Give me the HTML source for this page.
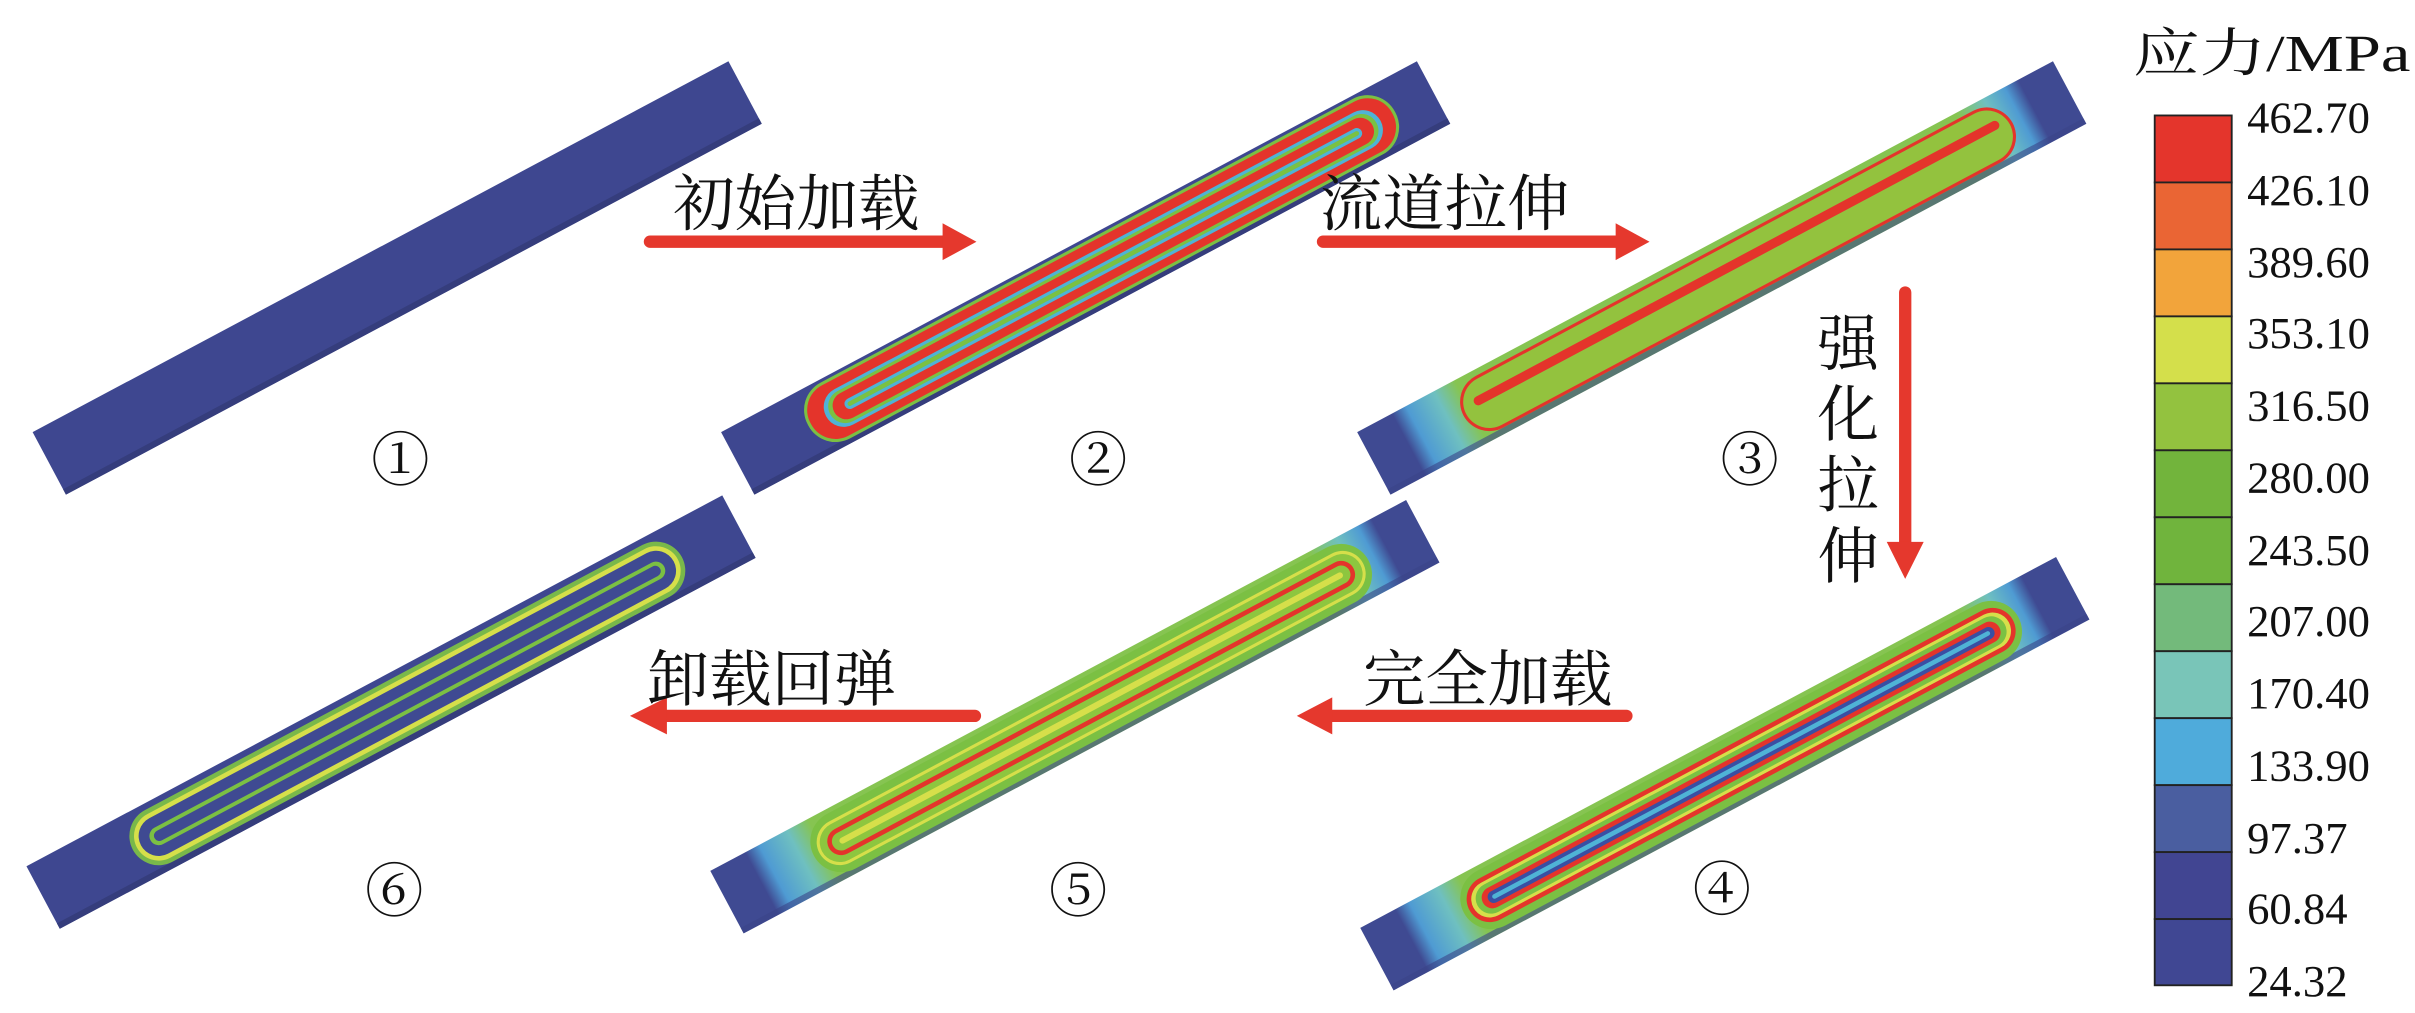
<!DOCTYPE html>
<html><head><meta charset="utf-8"><style>
html,body{margin:0;padding:0;background:#fff;}
svg{display:block;}
text{font-family:"Liberation Serif","Noto Serif CJK SC",serif;fill:#111;}
.cn{font-family:"Liberation Serif","Noto Serif CJK SC","Noto Sans CJK SC",serif;}
</style></head><body>
<svg width="2415" height="1013" viewBox="0 0 1568 658" preserveAspectRatio="none" xmlns="http://www.w3.org/2000/svg">
<defs>
<linearGradient id="ends" x1="0" y1="0" x2="512" y2="0" gradientUnits="userSpaceOnUse">
<stop offset="0" stop-color="#3f4a92"/><stop offset="0.05" stop-color="#3f4a92"/>
<stop offset="0.07" stop-color="#4f9bd3"/><stop offset="0.11" stop-color="#6fc0c0"/>
<stop offset="0.14" stop-color="#86c451"/><stop offset="0.86" stop-color="#86c451"/>
<stop offset="0.9" stop-color="#6fc0c0"/><stop offset="0.93" stop-color="#4f9bd3"/>
<stop offset="0.95" stop-color="#3f4a92"/><stop offset="1" stop-color="#3f4a92"/>
</linearGradient>
</defs>

<!-- Plate 1 -->
<g transform="translate(32,301) rotate(-28.07)">
<rect x="0" y="-23" width="512" height="46" fill="#3e4790"/>
<rect x="0" y="19" width="512" height="4" fill="#353d7c"/>
</g>

<!-- Plate 2 -->
<g transform="translate(479,301) rotate(-28.07)">
<rect x="0" y="-23" width="512" height="46" fill="#3e4790"/>
<rect x="0" y="19" width="512" height="4" fill="#353d7c"/>
<rect x="52" y="-21" width="432" height="41" rx="20" fill="#7bc043"/>
<rect x="54" y="-19" width="428" height="37" rx="18" fill="#e4342b"/>
<rect x="65" y="-13" width="408" height="26" rx="13" fill="#4fb3d6"/>
<rect x="68" y="-11" width="402" height="22" rx="11" fill="#7ac143"/>
<rect x="71" y="-9" width="396" height="18" rx="9" fill="#e4342b"/>
<rect x="79" y="-3.5" width="380" height="7" rx="3.5" fill="#4fb3d6"/>
<rect x="81" y="-1.5" width="376" height="3" rx="1.5" fill="#7ac143"/>
</g>

<!-- Plate 3 -->
<g transform="translate(892,301) rotate(-28.07)">
<rect x="0" y="-23" width="512" height="46" fill="url(#ends)"/>
<rect x="0" y="19" width="512" height="4" fill="#3a4488" opacity="0.6"/>
<rect x="66" y="-19" width="404" height="38" rx="19" fill="#e4342b"/>
<rect x="68" y="-17" width="400" height="34" rx="17" fill="#93c23e"/>
<rect x="76" y="-7" width="386" height="6" rx="3" fill="#e4342b"/>
</g>

<!-- Plate 6 -->
<g transform="translate(28,583) rotate(-28.07)">
<rect x="0" y="-23" width="512" height="46" fill="#3e4790"/>
<rect x="0" y="19" width="512" height="4" fill="#353d7c"/>
<rect x="66" y="-19" width="404" height="38" rx="19" fill="#79b84a"/>
<rect x="69" y="-16" width="398" height="32" rx="16" fill="#d6df4a"/>
<rect x="72" y="-13" width="392" height="26" rx="13" fill="#3f4a92"/>
<rect x="79" y="-6" width="378" height="12" rx="6" fill="#7bc043"/>
<rect x="82" y="-3.5" width="372" height="7" rx="3.5" fill="#3f4a92"/>
</g>

<!-- Plate 5 -->
<g transform="translate(472,586) rotate(-28.07)">
<rect x="0" y="-23" width="512" height="46" fill="url(#ends)"/>
<rect x="0" y="19" width="512" height="4" fill="#3a4488" opacity="0.6"/>
<rect x="64" y="-20" width="408" height="40" rx="20" fill="#7bc043"/>
<rect x="68" y="-15" width="400" height="30" rx="15" fill="#d6df4a"/>
<rect x="70" y="-13" width="396" height="26" rx="13" fill="#8dc63f"/>
<rect x="75" y="-9" width="386" height="18" rx="9" fill="#e4342b"/>
<rect x="78" y="-6" width="380" height="12" rx="6" fill="#8dc63f"/>
<rect x="83" y="-2" width="370" height="4" rx="2" fill="#d6df4a"/>
</g>

<!-- Plate 4 -->
<g transform="translate(894,623) rotate(-28.07)">
<rect x="0" y="-23" width="512" height="46" fill="url(#ends)"/>
<rect x="0" y="19" width="512" height="4" fill="#3a4488" opacity="0.6"/>
<rect x="64" y="-20" width="408" height="40" rx="20" fill="#7bc043"/>
<rect x="68" y="-15" width="400" height="30" rx="15" fill="#e4342b"/>
<rect x="71" y="-12" width="394" height="24" rx="12" fill="#d6df4a"/>
<rect x="74" y="-10" width="388" height="20" rx="10" fill="#7ac143"/>
<rect x="78" y="-7" width="380" height="14" rx="7" fill="#e4342b"/>
<rect x="82" y="-4" width="372" height="8" rx="4" fill="#3a4fa3"/>
<rect x="85" y="-1.5" width="366" height="3" rx="1.5" fill="#4fb3d6"/>
</g>

<!-- Arrows -->
<g fill="#e5382d" stroke="#e5382d">
<line x1="422" y1="157" x2="615" y2="157" stroke-width="8" stroke-linecap="round"/>
<polygon points="612,145 634,157 612,169" stroke="none"/>
<line x1="859" y1="157" x2="1052" y2="157" stroke-width="8" stroke-linecap="round"/>
<polygon points="1049,145 1071,157 1049,169" stroke="none"/>
<line x1="1237" y1="190" x2="1237" y2="355" stroke-width="8" stroke-linecap="round"/>
<polygon points="1225,352 1237,376 1249,352" stroke="none"/>
<line x1="1056" y1="465" x2="862" y2="465" stroke-width="8" stroke-linecap="round"/>
<polygon points="865,453 842,465 865,477" stroke="none"/>
<line x1="633" y1="465" x2="430" y2="465" stroke-width="8" stroke-linecap="round"/>
<polygon points="433,453 409,465 433,477" stroke="none"/>
</g>

<!-- Arrow labels -->
<g class="cn" font-size="40">
<text x="437" y="146" class="cn" textLength="160" lengthAdjust="spacingAndGlyphs">初始加载</text>
<text x="857" y="146" class="cn" textLength="162" lengthAdjust="spacingAndGlyphs">流道拉伸</text>
<text x="885" y="455" class="cn" textLength="162" lengthAdjust="spacingAndGlyphs">完全加载</text>
<text x="420" y="455" class="cn" textLength="162" lengthAdjust="spacingAndGlyphs">卸载回弹</text>
<text x="1180" y="237" class="cn">强</text>
<text x="1180" y="283" class="cn">化</text>
<text x="1180" y="329" class="cn">拉</text>
<text x="1180" y="375" class="cn">伸</text>
</g>

<!-- Circled numbers -->
<g font-size="38" text-anchor="middle" class="cn">
<text x="260" y="312" class="cn">①</text>
<text x="713" y="312" class="cn">②</text>
<text x="1136" y="312" class="cn">③</text>
<text x="256" y="592" class="cn">⑥</text>
<text x="700" y="592" class="cn">⑤</text>
<text x="1118" y="591" class="cn">④</text>
</g>

<!-- Legend -->
<text x="1385" y="46" font-size="34" class="cn" textLength="180" lengthAdjust="spacingAndGlyphs">应力/MPa</text>
<g stroke="#222" stroke-width="1.2">
<rect x="1399" y="75" width="50" height="43.5" fill="#e4352c"/>
<rect x="1399" y="118.5" width="50" height="43.5" fill="#ea6534"/>
<rect x="1399" y="162" width="50" height="43.5" fill="#f2a43b"/>
<rect x="1399" y="205.5" width="50" height="43.5" fill="#d4df4b"/>
<rect x="1399" y="249" width="50" height="43.5" fill="#93c23f"/>
<rect x="1399" y="292.5" width="50" height="43.5" fill="#72b43c"/>
<rect x="1399" y="336" width="50" height="43.5" fill="#70b43d"/>
<rect x="1399" y="379.5" width="50" height="43.5" fill="#73ba7b"/>
<rect x="1399" y="423" width="50" height="43.5" fill="#79c5b8"/>
<rect x="1399" y="466.5" width="50" height="43.5" fill="#4fabdb"/>
<rect x="1399" y="510" width="50" height="43.5" fill="#4a5ea0"/>
<rect x="1399" y="553.5" width="50" height="43.5" fill="#414592"/>
<rect x="1399" y="597" width="50" height="43" fill="#404793"/>
</g>
<g font-size="29">
<text x="1459" y="86">462.70</text>
<text x="1459" y="133">426.10</text>
<text x="1459" y="180">389.60</text>
<text x="1459" y="226">353.10</text>
<text x="1459" y="273">316.50</text>
<text x="1459" y="320">280.00</text>
<text x="1459" y="367">243.50</text>
<text x="1459" y="413">207.00</text>
<text x="1459" y="460">170.40</text>
<text x="1459" y="507">133.90</text>
<text x="1459" y="554">97.37</text>
<text x="1459" y="600">60.84</text>
<text x="1459" y="647">24.32</text>
</g>
</svg>
</body></html>
